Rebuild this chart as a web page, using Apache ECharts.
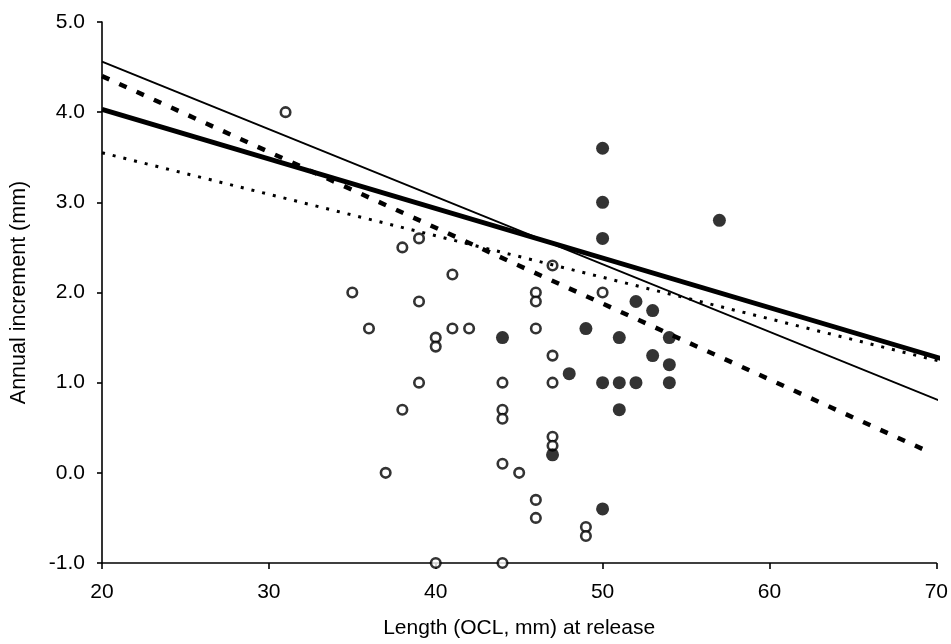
<!DOCTYPE html>
<html>
<head>
<meta charset="utf-8">
<title>Annual increment vs length at release</title>
<script src="https://cdn.jsdelivr.net/npm/echarts@6/dist/echarts.min.js"></script>
<style>
  html, body { margin: 0; padding: 0; background: #fff; }
  #chart { width: 951px; height: 644px; }
</style>
</head>
<body>
<div id="chart"></div>
<script>
// Open circles: recaptured animals (length at release, annual increment)
const openPoints = [
  [31, 4.0], [35, 2.0], [36, 1.6], [37, 0.0], [38, 2.5], [38, 0.7],
  [39, 2.6], [39, 1.9], [39, 1.0], [40, 1.5], [40, 1.4], [40, -1.0],
  [41, 2.2], [41, 1.6], [42, 1.6], [44, 1.0], [44, 0.7], [44, 0.6],
  [44, 0.1], [44, -1.0], [45, 0.0], [46, 2.0], [46, 1.9], [46, 1.6],
  [46, -0.3], [46, -0.5], [47, 2.3], [47, 1.3], [47, 1.0], [47, 0.4],
  [47, 0.3], [49, -0.6], [49, -0.7], [50, 2.0]
];

// Filled circles: second group
const filledPoints = [
  [44, 1.5], [47, 0.2], [48, 1.1], [49, 1.6], [50, 3.6], [50, 3.0],
  [50, 2.6], [50, 1.0], [50, -0.4], [51, 1.5], [51, 1.0], [51, 0.7],
  [52, 1.9], [52, 1.0], [53, 1.8], [53, 1.3], [54, 1.5], [54, 1.2],
  [54, 1.0], [57, 2.8]
];

// Fitted growth lines, given by their end points
const thinLine = [[20, 4.56], [70.6, 0.77]];
const thickLine = [[20, 4.03], [70.6, 1.25]];
const dashedLine = [[20, 4.40], [69.7, 0.22]];
const dottedLine = [[20, 3.55], [70.6, 1.22]];

const xTicks = { min: 20, max: 70, step: 10 };
const yTicks = { min: -1, max: 5, step: 1 };

const FONT = '"Liberation Sans", Arial, Helvetica, sans-serif';

const chart = echarts.init(document.getElementById('chart'), null, { renderer: 'canvas' });

function lineSeries(data, width, dash) {
  return {
    type: 'line',
    data: data,
    symbol: 'none',
    clip: false,
    silent: true,
    z: 5,
    lineStyle: { color: '#000', width: width, type: dash, cap: 'butt' },
    animation: false
  };
}

chart.setOption({
  backgroundColor: '#fff',
  animation: false,
  grid: { left: 99, right: 13, top: 22, bottom: 80, containLabel: false },
  xAxis: {
    type: 'value',
    min: xTicks.min,
    max: xTicks.max,
    interval: xTicks.step,
    name: 'Length (OCL, mm) at release',
    nameLocation: 'middle',
    nameGap: 55,
    nameTextStyle: { color: '#000', fontFamily: FONT, fontSize: 21 },
    axisLine: { onZero: false, lineStyle: { color: '#000', width: 1.6 } },
    axisTick: { show: true, inside: false, length: 6, lineStyle: { color: '#000', width: 1.6 } },
    axisLabel: { color: '#000', fontFamily: FONT, fontSize: 21, margin: 19 },
    splitLine: { show: false }
  },
  yAxis: {
    type: 'value',
    min: yTicks.min,
    max: yTicks.max,
    interval: yTicks.step,
    name: 'Annual increment (mm)',
    nameLocation: 'middle',
    nameGap: 72,
    nameRotate: 90,
    nameTextStyle: { color: '#000', fontFamily: FONT, fontSize: 21.5 },
    axisLine: { show: true, onZero: false, lineStyle: { color: '#000', width: 1.6 } },
    axisTick: { show: true, inside: false, length: 5, lineStyle: { color: '#000', width: 1.6 } },
    axisLabel: {
      color: '#000', fontFamily: FONT, fontSize: 21, margin: 17,
      formatter: function (v) { return v.toFixed(1); }
    },
    splitLine: { show: false }
  },
  series: [
    {
      type: 'scatter',
      data: openPoints,
      symbol: 'circle',
      symbolSize: 9.5,
      z: 3,
      itemStyle: { color: '#fff', borderColor: '#000', borderWidth: 2.6 }
    },
    {
      type: 'scatter',
      data: filledPoints,
      symbol: 'circle',
      symbolSize: 13,
      z: 3,
      itemStyle: { color: '#000' }
    },
    lineSeries(thinLine, 2, 'solid'),
    lineSeries(thickLine, 5, 'solid'),
    lineSeries(dashedLine, 4.5, [8, 11]),
    lineSeries(dottedLine, 3, [3, 8])
  ]
});
</script>
</body>
</html>
